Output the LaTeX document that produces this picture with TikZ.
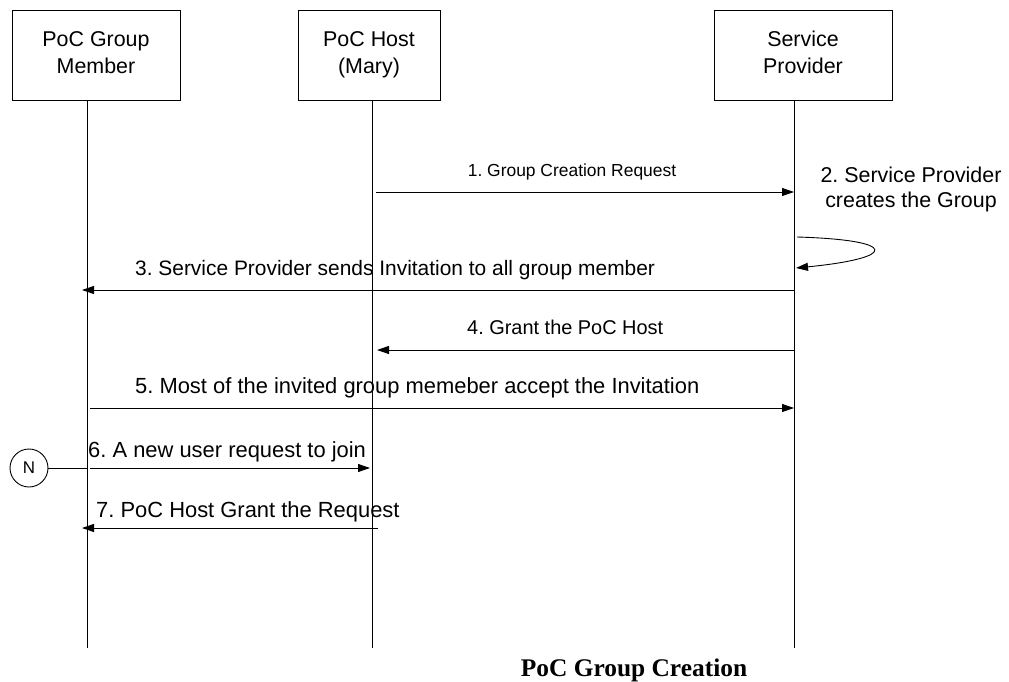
\documentclass[tikz,border=0pt]{standalone}
\usepackage{fontspec}
\setmainfont{Liberation Sans}
\newfontfamily\capfont{Liberation Serif}
\usetikzlibrary{arrows.meta}
\tikzset{
  actor/.style={draw, line width=0.9bp, minimum width=#1, minimum height=90bp, align=center, inner sep=0pt, font=\fontsize{21.5}{27}\selectfont},
  life/.style={line width=0.9bp},
  msg/.style={line width=0.9bp, -{Triangle[length=12bp,width=8bp]}},
  lbl/.style={anchor=base west, inner sep=0pt, font=\fontsize{21}{25}\selectfont},
  biglbl/.style={anchor=base west, inner sep=0pt, font=\fontsize{22}{26}\selectfont},
  smalllbl/.style={anchor=base, inner sep=0pt, font=\fontsize{17.5}{20}\selectfont},
}
\begin{document}
\frenchspacing
\begin{tikzpicture}[x=1bp,y=-1bp]
\useasboundingbox[fill=white] (0,0) rectangle (1009,682);
% actors
\node[actor=168bp] (A) at (96,55) {\strut PoC Group\\\strut Member};
\node[actor=142bp] (B) at (369,55) {\strut PoC Host\\\strut (Mary)};
\node[actor=178bp] (C) at (803,55) {\strut Service\\\strut Provider};
% lifelines
\coordinate (At) at (87,100);  \coordinate (Ab) at (87,648);
\coordinate (Bt) at (372,100); \coordinate (Bb) at (372,648);
\coordinate (Ct) at (794,100); \coordinate (Cb) at (794,648);
\draw[life] (At) -- (Ab);
\draw[life] (Bt) -- (Bb);
\draw[life] (Ct) -- (Cb);
% 1
\coordinate (m1a) at (376,192); \coordinate (m1b) at (794,192);
\draw[msg] (m1a) -- (m1b);
\node[smalllbl] (l1) at (572,177) {1. Group Creation Request};
% 2 self
\coordinate (m2a) at (797,237); \coordinate (m2b) at (796,268);
\draw[line width=0.9bp, -{Triangle[length=12bp,width=8bp]}] (m2a) .. controls (900,240) and (898,258) .. (m2b);
\node[anchor=base, inner sep=0pt, align=center, font=\fontsize{21.5}{25}\selectfont] (l2) at (911,207) {2. Service Provider\\creates the Group};
% 3
\coordinate (m3a) at (794,290); \coordinate (m3b) at (82,290);
\draw[msg] (m3a) -- (m3b);
\node[lbl] (l3) at (135,275) {3. Service Provider sends Invitation to all group member};
% 4
\coordinate (m4a) at (794,350); \coordinate (m4b) at (377,350);
\draw[msg] (m4a) -- (m4b);
\node[lbl, font=\fontsize{20}{24}\selectfont] (l4) at (467,334) {4. Grant the PoC Host};
% 5
\coordinate (m5a) at (90,408); \coordinate (m5b) at (794,408);
\draw[msg] (m5a) -- (m5b);
\node[biglbl] (l5) at (135,393) {5. Most of the invited group memeber accept the Invitation};
% N
\node[draw, circle, line width=0.9bp, minimum size=38bp, inner sep=0pt, font=\fontsize{17}{20}\selectfont] (N) at (29,468) {N};
\coordinate (Nl) at (87,468);
\draw[life] (N) -- (Nl);
% 6
\coordinate (m6a) at (90,468); \coordinate (m6b) at (370,468);
\draw[msg] (m6a) -- (m6b);
\node[biglbl] (l6) at (88,457) {6. A new user request to join};
% 7
\coordinate (m7a) at (378,528); \coordinate (m7b) at (82,528);
\draw[msg] (m7a) -- (m7b);
\node[biglbl] (l7) at (96,517) {7. PoC Host Grant the Request};
% caption
\node[anchor=base, inner sep=0pt, font=\capfont\bfseries\fontsize{25.5}{29}\selectfont] (cap) at (634,676) {PoC Group Creation};
\end{tikzpicture}
\end{document}
